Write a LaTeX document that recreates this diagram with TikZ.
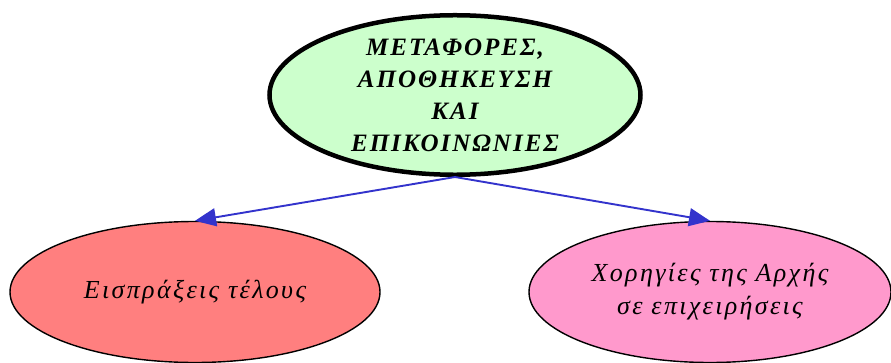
\documentclass[tikz,border=0pt]{standalone}
\usepackage{fontspec}
\setmainfont{Liberation Serif}
\usetikzlibrary{shapes.geometric,arrows.meta}
\definecolor{topfill}{HTML}{CCFFCC}
\definecolor{leftfill}{HTML}{FF7F7F}
\definecolor{rightfill}{HTML}{FF99CC}
\definecolor{arrowblue}{HTML}{3333CC}
\tikzset{
  oval/.style={ellipse, draw=black, inner sep=0pt, align=center, font=\itshape\fontsize{26}{33}\selectfont\addfontfeature{LetterSpace=9}},
  link/.style={draw=arrowblue, line width=1.9pt, -{Triangle[length=21pt,width=18pt]}}
}
\begin{document}
\begin{tikzpicture}[x=1pt,y=1pt]
\useasboundingbox (0,0) rectangle (891,362);
\node[oval, fill=topfill, line width=4.5pt, minimum width=371pt, minimum height=157pt,
      font=\bfseries\itshape\fontsize{25}{32}\selectfont\addfontfeature{LetterSpace=8}] (top) at (455,267)
  {ΜΕΤΑΦΟΡΕΣ,\\ΑΠΟΘΗΚΕΥΣΗ\\ΚΑΙ\\ΕΠΙΚΟΙΝΩΝΙΕΣ};
\node[oval, fill=leftfill, line width=1.4pt, minimum width=370pt, minimum height=141pt] (left) at (195,70)
  {Εισπράξεις τέλους};
\node[oval, fill=rightfill, line width=1.4pt, minimum width=362pt, minimum height=141pt] (right) at (710,70)
  {Χορηγίες της Αρχής\\σε επιχειρήσεις};
\draw[link] (top.south) -- (left.north);
\draw[link] (top.south) -- (right.north);
\end{tikzpicture}
\end{document}
